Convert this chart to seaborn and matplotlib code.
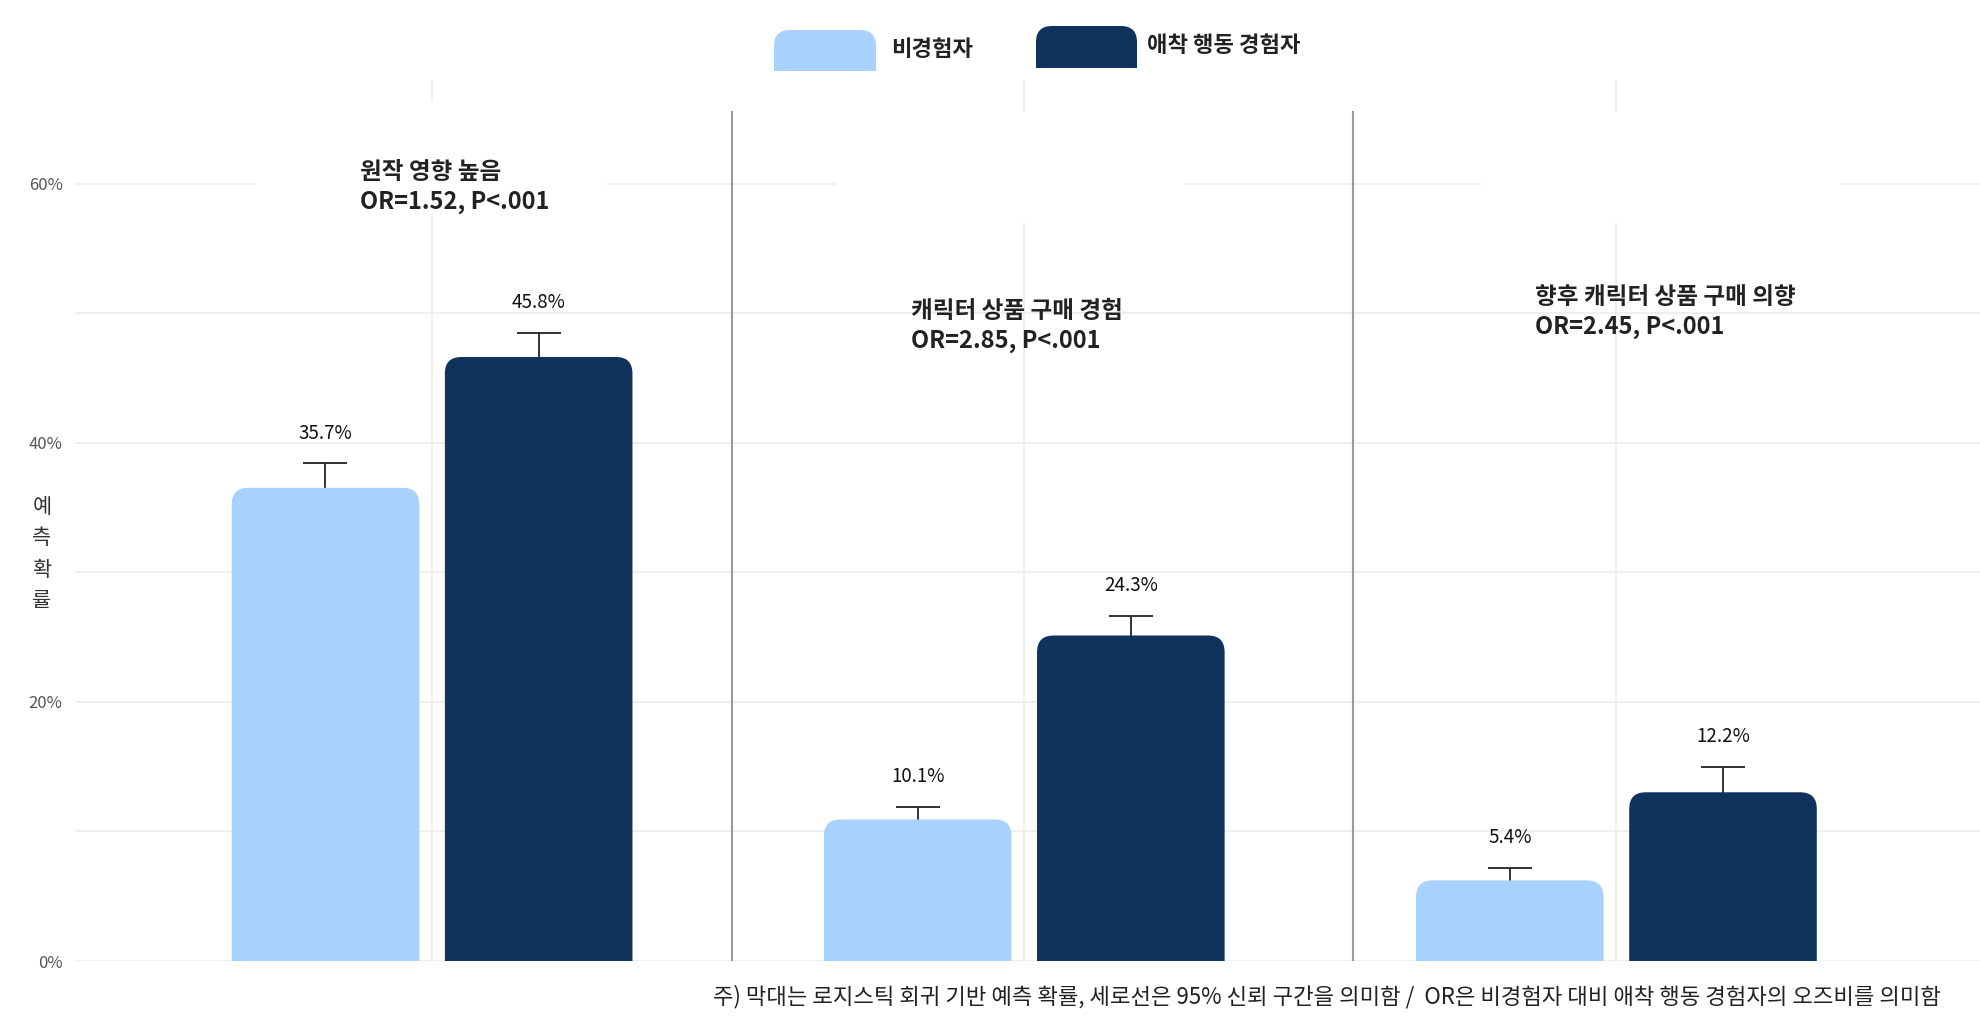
import matplotlib
matplotlib.use("Agg")
import matplotlib.pyplot as plt
import matplotlib.ticker as mticker
from matplotlib.patches import FancyBboxPatch, Rectangle
import pandas as pd
import seaborn as sns

# values (percent)
outcomes = ["원작 영향 높음", "캐릭터 상품 구매 경험", "향후 캐릭터 상품 구매 의향"]
odds_ratios = ["OR=1.52, P<.001", "OR=2.85, P<.001", "OR=2.45, P<.001"]
groups = ["비경험자", "애착 행동 경험자"]
prob_none = [35.7, 10.1, 5.4]
prob_attached = [45.8, 24.3, 12.2]
ci_upper_none = [38.4, 11.9, 7.2]
ci_upper_attached = [48.5, 26.6, 15.0]
colors = ["#A8D2FD", "#10335E"]
note = ("주) 막대는 로지스틱 회귀 기반 예측 확률, 세로선은 95% 신뢰 구간을 의미함 /  "
        "OR은 비경험자 대비 애착 행동 경험자의 오즈비를 의미함")

# long table for seaborn
rows = []
for i, outcome in enumerate(outcomes):
    rows.append((outcome, groups[0], prob_none[i], ci_upper_none[i]))
    rows.append((outcome, groups[1], prob_attached[i], ci_upper_attached[i]))
df = pd.DataFrame(rows, columns=["outcome", "group", "prob", "ci_hi"])
df["ci_lo"] = 2 * df["prob"] - df["ci_hi"]

sns.set_theme(style="whitegrid")
plt.rcParams["font.family"] = ["Noto Sans CJK KR", "DejaVu Sans"]

W, H = 1980, 1029
fig = plt.figure(figsize=(W / 100, H / 100), dpi=100)
ax_left, ax_right, ax_top, ax_bottom = 75, 1980, 80, 961
ax = fig.add_axes([ax_left / W, 1 - ax_bottom / H, (ax_right - ax_left) / W, (ax_bottom - ax_top) / H])

XLIM = (-0.603, 2.614)
YLIM = (0, 68)

sns.barplot(data=df, x="outcome", y="prob", hue="group", order=outcomes, hue_order=groups,
            palette=colors, saturation=1, width=0.72, gap=0.22, errorbar=None,
            legend=False, ax=ax)

# aspect so the corner rounding is circular on screen
px_per_x = (ax_right - ax_left) / (XLIM[1] - XLIM[0])
px_per_y = (ax_bottom - ax_top) / (YLIM[1] - YLIM[0])
aspect = px_per_x / px_per_y

# swap the plain bars for rounded ones, then add the CI whiskers and labels
bar_containers = list(ax.containers)
for h_idx, cont in enumerate(bar_containers):
    for c_idx, bar in enumerate(cont.patches):
        x0, w, h = bar.get_x(), bar.get_width(), bar.get_height()
        bar.set_visible(False)
        ax.add_patch(FancyBboxPatch((x0, -3), w, h + 3,
                                    boxstyle="round,pad=0.018,rounding_size=0.028",
                                    mutation_aspect=aspect, fc=colors[h_idx], ec="none", zorder=3))
        row = df[(df["outcome"] == outcomes[c_idx]) & (df["group"] == groups[h_idx])].iloc[0]
        cx = x0 + w / 2
        ax.errorbar(cx, row["prob"], yerr=[[row["prob"] - row["ci_lo"]], [row["ci_hi"] - row["prob"]]],
                    fmt="none", ecolor="#222222", elinewidth=1.3, capsize=15.5, capthick=1.3, zorder=2)
        ax.text(cx, row["ci_hi"] + 2.35, f"{row['prob']:.1f}%", ha="center", va="center",
                fontsize=13.5, color="#111111", zorder=5)

# white boxes that cut the gridlines near the top
for bx, by, bw, bh in [(-0.30, 57.7, 0.594, 8.7), (0.68, 57.0, 0.594, 8.6), (1.773, 57.0, 0.605, 8.6)]:
    ax.add_patch(Rectangle((bx, by), bw, bh, fc="white", ec="none", zorder=1))

# group separators
ax.vlines([0.507, 1.555], 0, 65.6, color="#9a9a9a", lw=1.5, zorder=2)

# outcome titles with odds ratios
title_pos = [(-0.121, 59.75), (0.808, 49.0), (1.862, 50.1)]
for (tx, ty), name, orr in zip(title_pos, outcomes, odds_ratios):
    ax.text(tx, ty, f"{name}\n{orr}", ha="left", va="center", fontsize=17, fontweight="bold",
            color="#222222", linespacing=1.3, zorder=5)

ax.set_xlim(*XLIM)
ax.set_ylim(*YLIM)
ax.set_yticks([0, 20, 40, 60])
ax.set_yticks([10, 30, 50], minor=True)
ax.yaxis.set_major_formatter(mticker.FuncFormatter(lambda v, p: f"{v:.0f}%"))
ax.grid(which="both", axis="y", color="#ececec", lw=1.2)
ax.grid(which="major", axis="x", color="#ececec", lw=1.2)
ax.set_xticklabels([])
ax.set_xlabel("")
ax.tick_params(axis="both", which="both", length=0)
ax.tick_params(axis="y", labelsize=12, labelcolor="#555555", pad=9)
ax.set_ylabel("예\n측\n확\n률", rotation=0, fontsize=15, color="#333333", linespacing=1.55,
              ha="center", va="center")
ax.yaxis.set_label_coords((42 - ax_left) / (ax_right - ax_left), (ax_bottom - 554) / (ax_bottom - ax_top))
for s in ax.spines.values():
    s.set_visible(False)

# legend drawn in pixel space on top
lay = fig.add_axes([0, 0, 1, 1])
lay.set_xlim(0, W)
lay.set_ylim(H, 0)
lay.axis("off")
legend_items = [(774, 30, 102, 41, 891, 50), (1036, 26, 101, 42, 1147, 46)]
for (lx, ly, lw_, lh, tx, ty), col, lab in zip(legend_items, colors, groups):
    lay.add_patch(FancyBboxPatch((lx, ly), lw_, lh, boxstyle="round,pad=0,rounding_size=16", fc=col, ec="none"))
    lay.add_patch(Rectangle((lx, ly + lh / 2), lw_, lh / 2, fc=col, ec="none"))
    lay.text(tx, ty, lab, ha="left", va="center", fontsize=16, fontweight="bold", color="#222222")

lay.text(1941, 997, note, ha="right", va="center", fontsize=16, color="#222222")

fig.savefig("out.png", dpi=100, facecolor="white")
